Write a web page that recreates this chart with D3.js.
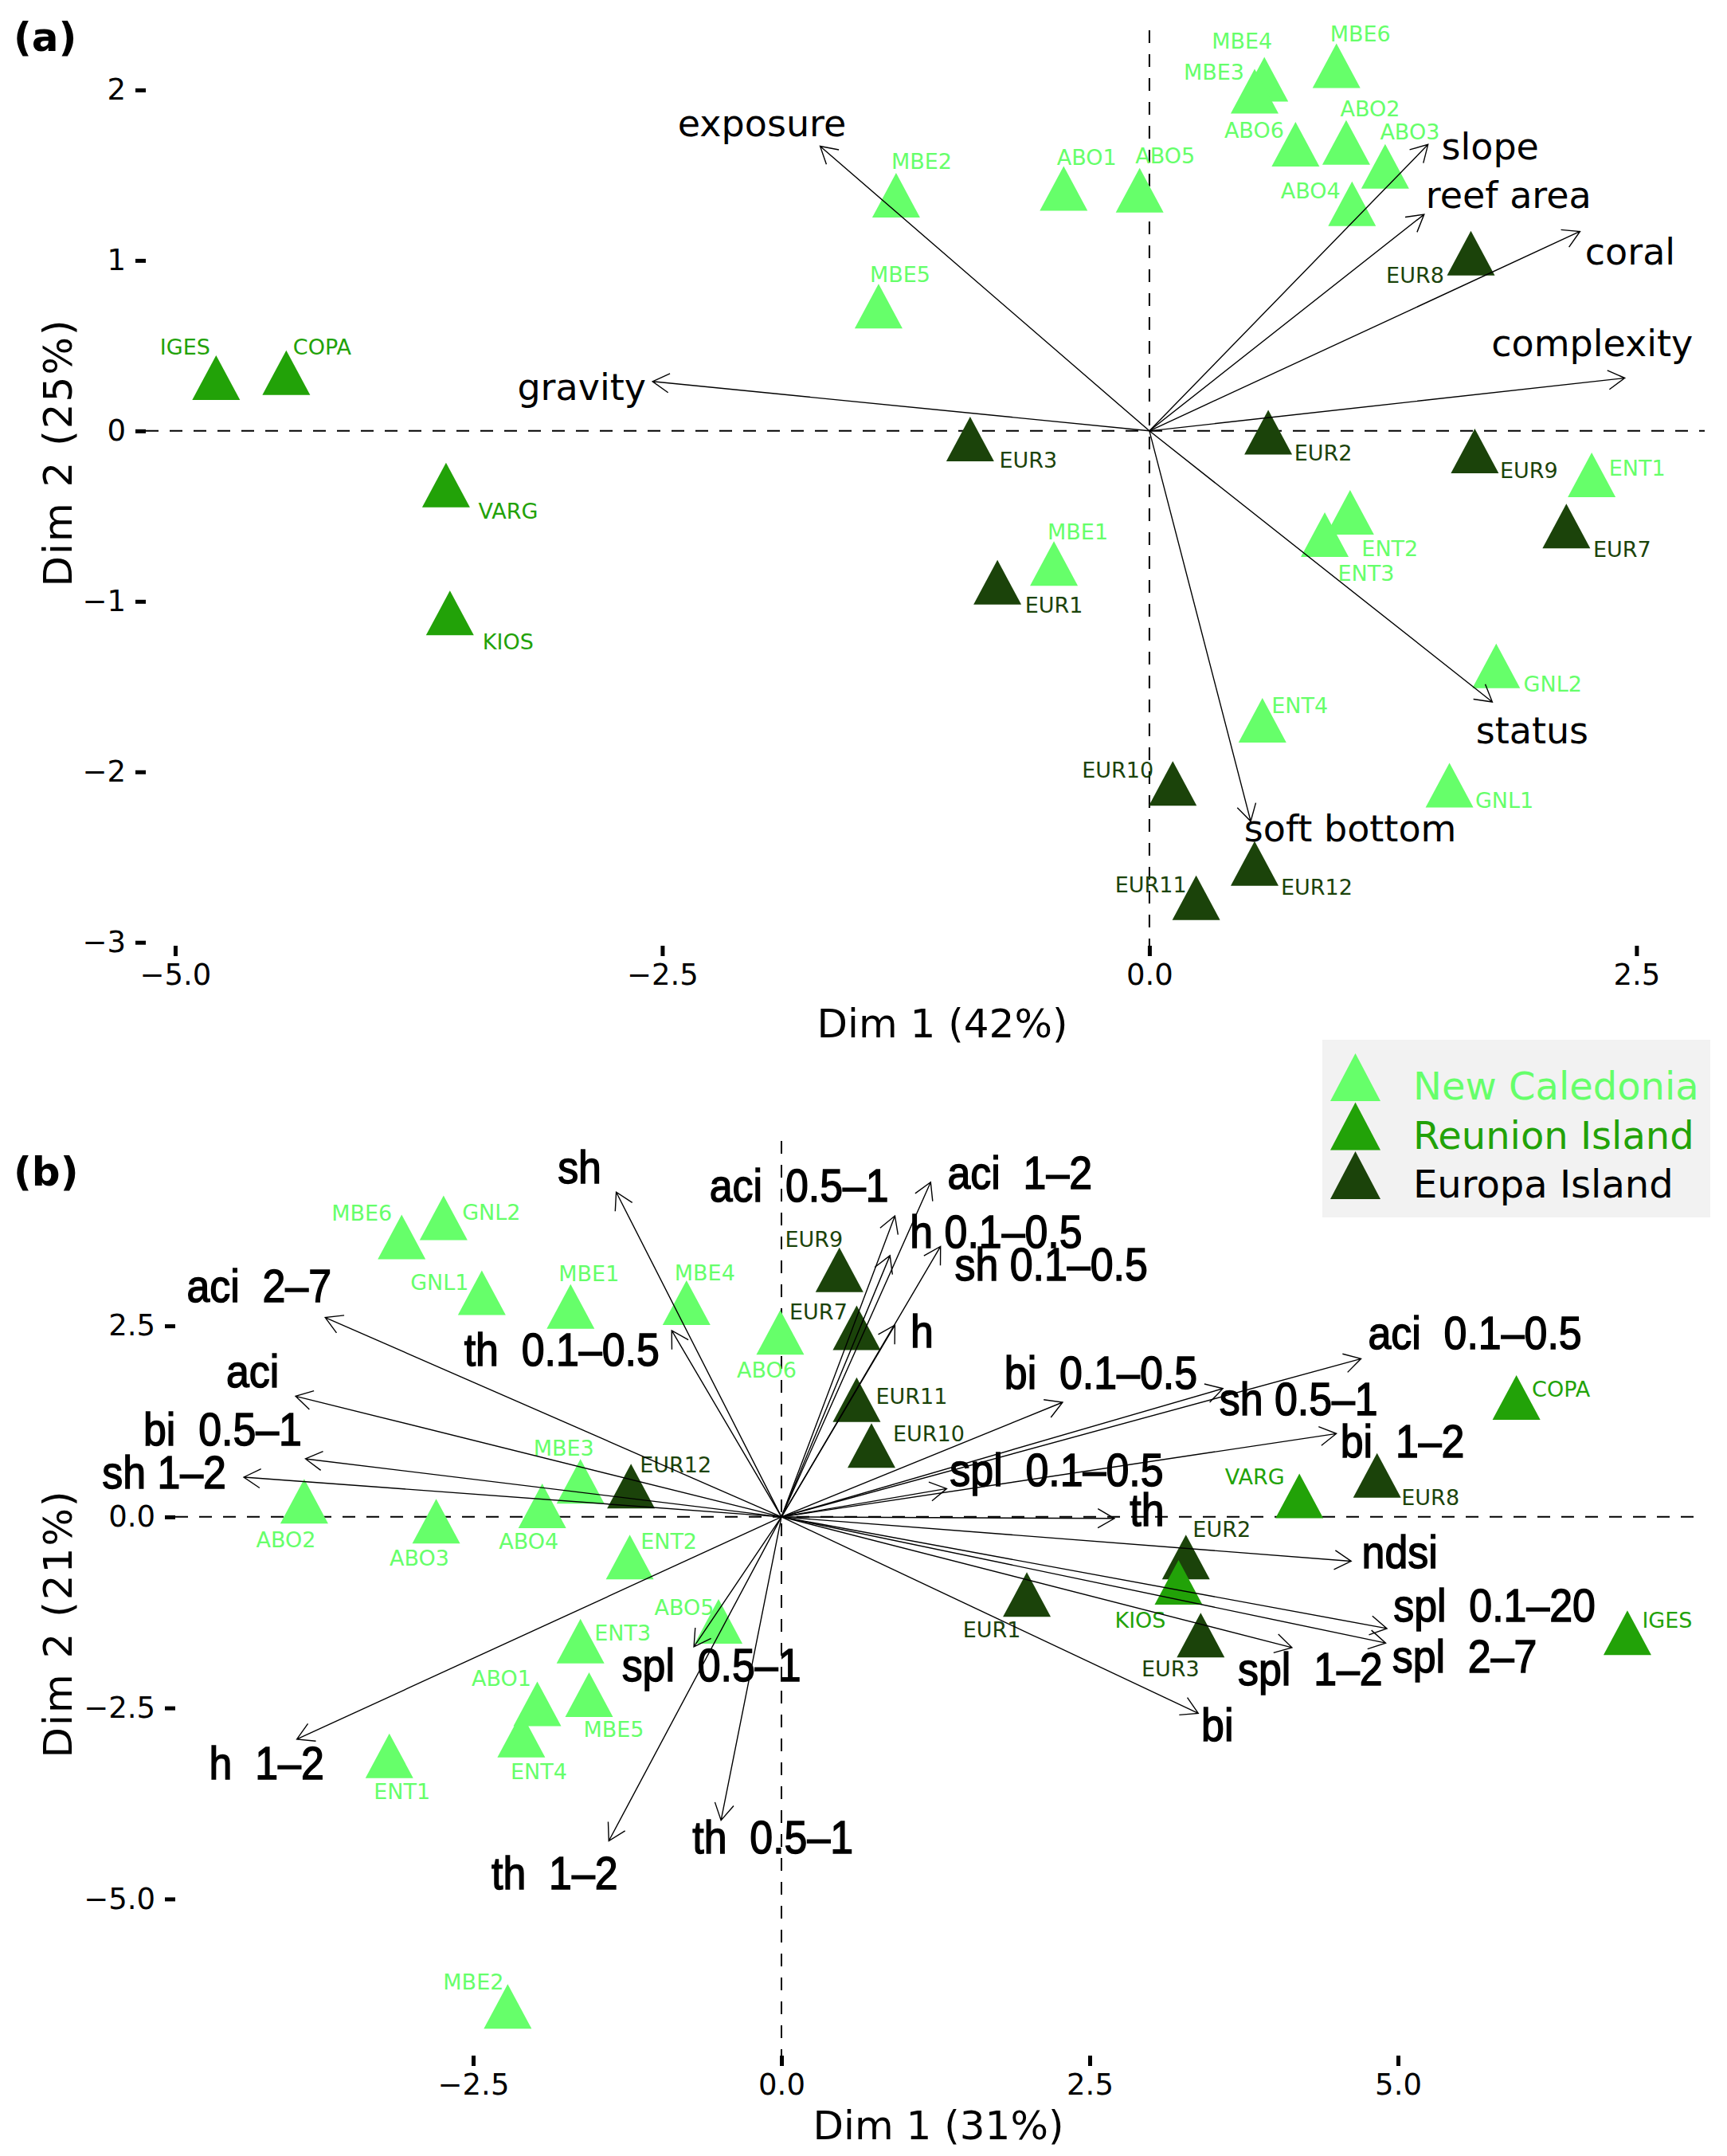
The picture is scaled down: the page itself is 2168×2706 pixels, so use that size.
<!DOCTYPE html>
<html>
<head>
<meta charset="utf-8">
<script src="https://cdn.jsdelivr.net/npm/d3@7"></script>
<style>
  body { margin: 0; background: #fff; }
  svg text { font-family: "DejaVu Sans", sans-serif; }
</style>
</head>
<body>
<div id="chart"></div>
<script>
// island groups
const groups = ["New Caledonia", "Reunion Island", "Europa Island"];
const groupColors = ["#66FF6A", "#22A208", "#1B430A"];
const legendTextColors = ["#66FF6A", "#22A208", "#000000"];
const reunionSites = ["IGES", "COPA", "VARG", "KIOS"];

// ---- (a) sites on environment PCA ----
const siteA = ["IGES","COPA","VARG","KIOS","MBE4","MBE3","MBE6","ABO2","ABO6","ABO3","ABO4","ABO5","ABO1","MBE2","MBE5",
  "EUR8","EUR3","EUR2","EUR9","ENT1","EUR7","MBE1","EUR1","ENT2","ENT3","GNL2","ENT4","EUR10","GNL1","EUR12","EUR11"];
const dim1A = [-4.79,-4.43,-3.61,-3.59,0.59,0.54,0.96,1.01,0.75,1.21,1.04,-0.05,-0.44,-1.30,-1.39,
  1.65,-0.92,0.61,1.67,2.27,2.14,-0.49,-0.78,1.03,0.90,1.78,0.58,0.12,1.54,0.54,0.24];
const dim2A = [0.27,0.30,-0.36,-1.11,2.02,1.95,2.10,1.65,1.64,1.51,1.29,1.37,1.38,1.34,0.69,
  1.00,-0.09,-0.05,-0.16,-0.30,-0.60,-0.82,-0.93,-0.52,-0.65,-1.42,-1.74,-2.11,-2.12,-2.58,-2.78];

const varA = ["exposure","gravity","slope","reef area","coral","complexity","status","soft bottom"];
const load1A = [-1.69,-2.55,1.43,1.41,2.21,2.44,1.76,0.52];
const load2A = [1.67,0.29,1.68,1.27,1.17,0.31,-1.59,-2.29];

const xTicksA = [-5, -2.5, 0, 2.5];
const yTicksA = [-3, -2, -1, 0, 1, 2];

// ---- (b) sites on habitat PCA ----
const siteB = ["MBE6","GNL2","GNL1","MBE1","MBE4","ABO6","EUR9","EUR7","EUR11","EUR10","MBE3","EUR12","ABO2","ABO3","ABO4","ENT2",
  "COPA","VARG","EUR8","EUR2","KIOS","EUR1","EUR3","IGES","ABO5","ENT3","ABO1","MBE5","ENT4","ENT1","MBE2"];
const dim1B = [-3.08,-2.74,-2.43,-1.71,-0.77,-0.01,0.47,0.61,0.61,0.73,-1.63,-1.22,-3.87,-2.80,-1.94,-1.23,
  5.96,4.20,4.83,3.28,3.22,1.99,3.40,6.86,-0.51,-1.63,-1.98,-1.56,-2.11,-3.18,-2.22];
const dim2B = [3.57,3.82,2.84,2.66,2.71,2.32,3.14,2.38,1.44,0.84,0.37,0.31,0.11,-0.15,0.05,-0.62,
  1.47,0.18,0.45,-0.62,-0.95,-1.11,-1.64,-1.61,-1.46,-1.72,-2.54,-2.42,-2.95,-3.22,-6.50];

const varB = ["sh","aci  0.5–1","aci  1–2","h 0.1–0.5","sh 0.1–0.5","h","aci  2–7","aci","bi  0.5–1","sh 1–2",
  "th  0.1–0.5","aci  0.1–0.5","bi  0.1–0.5","sh 0.5–1","bi  1–2","spl  0.1–0.5","th","ndsi","spl  0.1–20","spl  2–7",
  "spl  1–2","bi","spl  0.5–1","h  1–2","th  1–2","th  0.5–1"];
const load1B = [-1.34,0.88,1.21,0.92,1.29,0.92,-3.70,-3.94,-3.86,-4.36,
  -0.89,4.70,2.28,3.58,4.50,1.34,2.70,4.62,4.91,4.90,
  4.14,3.38,-0.71,-3.93,-1.40,-0.49];
const load2B = [4.25,3.42,4.38,3.94,3.54,2.51,2.61,1.58,0.76,0.52,
  2.44,2.07,1.50,1.68,1.09,0.37,-0.02,-0.58,-1.46,-1.65,
  -1.71,-2.57,-1.70,-2.91,-4.24,-3.97];

const xTicksB = [-2.5, 0, 2.5, 5];
const yTicksB = [-5, -2.5, 0, 2.5];

// label nudges in pixels (label centre / baseline relative to point or arrow tip)
const labelNudgeA = [[-39,-38],[45,-32],[78,33],[73,37],[-28,-48],[-51,-24],[30,-39],[30,-42],[-52,-17],[31,-43],[-52,-16],
  [32,-43],[29,-39],[32,-42],[27,-39],[-70,28],[73,27],[69,26],[68,25],[57,-8],[70,30],[30,-39],[71,29],[50,46],[52,49],
  [71,23],[47,-18],[-69,-16],[69,20],[78,30],[-57,-16]];
const varNudgeA = [[-73,-12],[-89,23],[78,19],[106,-8],[63,42],[-41,-27],[50,52],[125,25]];
const labelNudgeB = [[-50,-29],[60,-6],[-53,-12],[23,-41],[23,-37],[-17,48],[-32,-38],[-48,-20],[69,-4],[72,-14],[-21,-41],
  [56,-26],[-23,49],[-21,47],[-17,45],[49,-19],[56,-10],[-56,-24],[67,28],[45,-34],[-48,48],[-44,45],[-38,43],[50,-15],
  [-43,-17],[53,-10],[-45,-31],[31,44],[22,46],[16,45],[-43,-30]];
const varNudgeB = [[-46,-11],[-114,-68],[112,8],[127,40],[139,43],[34,28],[-83,-20],[-54,-11],[-104,-17],[-100,14],
  [-138,44],[143,-12],[48,-17],[95,33],[83,30],[138,-3],[41,9],[61,9],[135,-9],[99,37],
  [23,47],[24,35],[22,43],[-38,50],[-68,60],[65,41]];

const W = 2168, H = 2706;
const svg = d3.select("#chart").append("svg")
  .attr("width", W).attr("height", H)
  .attr("viewBox", [0, 0, W, H]);
svg.append("rect").attr("width", W).attr("height", H).attr("fill", "#fff");

const groupOf = name => name.startsWith("EUR") ? 2 : (reunionSites.includes(name) ? 1 : 0);
const tri = "M0,-37L30,19L-30,19Z";

function panel(cfg) {
  const x = d3.scaleLinear().domain(cfg.xDomain).range(cfg.xRange);
  const y = d3.scaleLinear().domain(cfg.yDomain).range(cfg.yRange);
  const g = svg.append("g");

  // zero reference lines
  g.append("line")
    .attr("x1", cfg.xRange[0]).attr("x2", cfg.xRange[1])
    .attr("y1", y(0)).attr("y2", y(0))
    .attr("stroke", "#000").attr("stroke-width", 2).attr("stroke-dasharray", "16,14");
  g.append("line")
    .attr("x1", x(0)).attr("x2", x(0))
    .attr("y1", cfg.yRange[1]).attr("y2", cfg.yRange[0])
    .attr("stroke", "#000").attr("stroke-width", 2).attr("stroke-dasharray", "16,14");

  // axes
  const ax = g.append("g")
    .attr("transform", `translate(0,${cfg.yRange[0]})`)
    .call(d3.axisBottom(x).tickValues(cfg.xTicks).tickFormat(d3.format(".1f")).tickSize(13).tickPadding(10));
  const ay = g.append("g")
    .attr("transform", `translate(${cfg.xRange[0]},0)`)
    .call(d3.axisLeft(y).tickValues(cfg.yTicks).tickFormat(cfg.yFormat).tickSize(13).tickPadding(12));
  [ax, ay].forEach(a => {
    a.select(".domain").remove();
    a.selectAll(".tick line").attr("stroke", "#000").attr("stroke-width", 5);
    a.selectAll(".tick text").attr("fill", "#000").style("font-size", "37px")
      .style("font-family", "'DejaVu Sans', sans-serif");
  });

  // sites
  const pts = cfg.sites.map((s, i) => ({ name: s, x: cfg.d1[i], y: cfg.d2[i], grp: groupOf(s), nudge: cfg.nudge[i] }));
  g.selectAll(".site")
    .data(pts)
    .join("path")
    .attr("class", "site")
    .attr("d", tri)
    .attr("transform", d => `translate(${x(d.x)},${y(d.y)})`)
    .attr("fill", d => groupColors[d.grp]);
  g.selectAll(".site-label")
    .data(pts)
    .join("text")
    .attr("class", "site-label")
    .attr("x", d => x(d.x) + d.nudge[0])
    .attr("y", d => y(d.y) + d.nudge[1])
    .attr("text-anchor", "middle")
    .attr("fill", d => groupColors[d.grp])
    .style("font-size", "27px")
    .text(d => d.name);

  // variable arrows
  const x0 = x(0), y0 = y(0);
  const arrows = cfg.vars.map((v, i) => {
    const tx = x(cfg.l1[i]), ty = y(cfg.l2[i]);
    const ang = Math.atan2(ty - y0, tx - x0);
    const L = 24, a = Math.PI / 6;
    return {
      name: v, tx, ty, nudge: cfg.varNudge[i],
      h1: [tx - L * Math.cos(ang - a), ty - L * Math.sin(ang - a)],
      h2: [tx - L * Math.cos(ang + a), ty - L * Math.sin(ang + a)]
    };
  });
  g.selectAll(".arrow")
    .data(arrows)
    .join("path")
    .attr("class", "arrow")
    .attr("d", d => `M${x0},${y0}L${d.tx},${d.ty}M${d.h1[0]},${d.h1[1]}L${d.tx},${d.ty}L${d.h2[0]},${d.h2[1]}`)
    .attr("fill", "none").attr("stroke", "#000").attr("stroke-width", 1.4);
  g.selectAll(".var-label")
    .data(arrows)
    .join("text")
    .attr("class", "var-label")
    .attr("xml:space", "preserve")
    .style("white-space", "pre")
    .attr("transform", d => `translate(${d.tx + d.nudge[0]},${d.ty + d.nudge[1]}) scale(${cfg.varScaleX},1)`)
    .attr("text-anchor", "middle")
    .attr("fill", "#000")
    .attr("stroke", cfg.varStroke ? "#000" : "none")
    .attr("stroke-width", cfg.varStroke)
    .style("font-family", cfg.varFont)
    .style("font-size", cfg.varSize + "px")
    .text(d => d.name);

  // axis titles and tag
  g.append("text")
    .attr("x", cfg.xTitlePos[0]).attr("y", cfg.xTitlePos[1])
    .attr("text-anchor", "middle").style("font-size", "50px")
    .text(cfg.xTitle);
  g.append("text")
    .attr("transform", `translate(${cfg.yTitlePos[0]},${cfg.yTitlePos[1]}) rotate(-90)`)
    .attr("text-anchor", "middle").style("font-size", "50px").style("letter-spacing", "2px")
    .text(cfg.yTitle);
  g.append("text")
    .attr("x", 17).attr("y", cfg.tagY)
    .style("font-size", "50px").style("font-weight", "bold")
    .text(cfg.tag);
}

panel({
  xDomain: [-5.151, 2.85], xRange: [183, 2140],
  yDomain: [-3.02, 2.35], yRange: [1187, 38],
  xTicks: xTicksA, yTicks: yTicksA, yFormat: d3.format("d"),
  sites: siteA, d1: dim1A, d2: dim2A, nudge: labelNudgeA,
  vars: varA, l1: load1A, l2: load2A, varNudge: varNudgeA,
  varFont: "'DejaVu Sans', sans-serif", varSize: 46, varScaleX: 1, varStroke: 0,
  xTitle: "Dim 1 (42%)", xTitlePos: [1183, 1302],
  yTitle: "Dim 2 (25%)", yTitlePos: [90, 568],
  tag: "(a)", tagY: 64
});

panel({
  xDomain: [-4.916, 7.487], xRange: [220, 2140],
  yDomain: [-7.05, 4.92], yRange: [2580, 1432],
  xTicks: xTicksB, yTicks: yTicksB, yFormat: d3.format(".1f"),
  sites: siteB, d1: dim1B, d2: dim2B, nudge: labelNudgeB,
  vars: varB, l1: load1B, l2: load2B, varNudge: varNudgeB,
  varFont: "'Liberation Sans', Arial, sans-serif", varSize: 57, varScaleX: 0.91, varStroke: 1.5,
  xTitle: "Dim 1 (31%)", xTitlePos: [1178, 2685],
  yTitle: "Dim 2 (21%)", yTitlePos: [90, 2038],
  tag: "(b)", tagY: 1488
});

// legend
const leg = svg.append("g");
leg.append("rect")
  .attr("x", 1660).attr("y", 1305).attr("width", 487).attr("height", 223)
  .attr("fill", "#F2F2F2");
const legY = d3.scalePoint().domain(groups).range([1362, 1485]);
leg.selectAll(".leg-tri")
  .data(groups)
  .join("path")
  .attr("class", "leg-tri")
  .attr("d", "M0,-40L31.5,20L-31.5,20Z")
  .attr("transform", d => `translate(1701.5,${legY(d)})`)
  .attr("fill", (d, i) => groupColors[i]);
leg.selectAll(".leg-text")
  .data(groups)
  .join("text")
  .attr("class", "leg-text")
  .attr("x", 1774)
  .attr("y", d => legY(d) + 18)
  .attr("fill", (d, i) => legendTextColors[i])
  .style("font-size", "48px")
  .text(d => d);
</script>
</body>
</html>
